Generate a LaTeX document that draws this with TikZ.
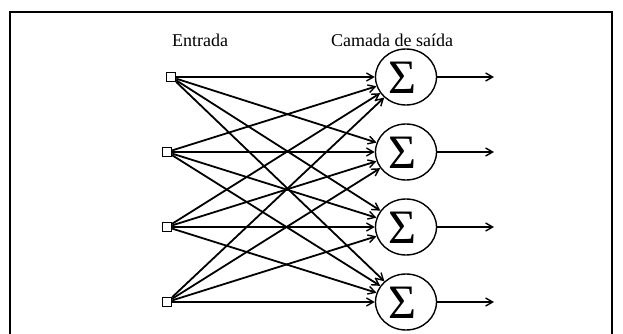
\documentclass[tikz,border=0pt]{standalone}
\usepackage{fontspec}
\setmainfont{Liberation Serif}
\usetikzlibrary{arrows.meta,shapes.geometric}
\begin{document}
\begin{tikzpicture}[x=1pt,y=-1pt,
  inbox/.style={draw,fill=white,line width=1.4pt,minimum size=9pt,inner sep=0pt},
  sumnode/.style={draw,ellipse,line width=1.4pt,minimum width=61pt,minimum height=56pt,inner sep=0pt},
  glyph/.style={font=\fontsize{48}{48}\selectfont,inner sep=0pt},
  conn/.style={line width=1.8pt,-{Straight Barb[length=7pt,width=8pt,line width=1.4pt]}},
  lbl/.style={font=\fontsize{18}{20}\selectfont}]
\useasboundingbox (0,0) rectangle (623,334);
\begin{scope}
\clip (0,0) rectangle (623,334);
\draw[line width=1.6pt] (10,12) rectangle (612,345);
\end{scope}
\node[lbl] (lin) at (200,40) {Entrada};
\node[lbl] (lout) at (392,40) {Camada de saída};
\node[inbox] (i1) at (171,77) {};
\node[inbox] (i2) at (167,152) {};
\node[inbox] (i3) at (167,227) {};
\node[inbox] (i4) at (167,302) {};
\foreach \k/\y in {1/77,2/152,3/227,4/302}{
  \node[sumnode] (s\k) at (406,\y) {};
  \node[glyph] (g\k) at (402,\y+1) {Σ};
}
\coordinate (o1) at (494,77);
\coordinate (o2) at (494,152);
\coordinate (o3) at (494,227);
\coordinate (o4) at (494,302);
\foreach \i in {1,2,3,4}{
  \foreach \j in {1,2,3,4}{
    \draw[conn] (i\i) -- (s\j);
  }
  \draw[conn] (s\i) -- (o\i);
}
\foreach \i in {1,2,3,4}{ \node[inbox] at (i\i) {}; }
\end{tikzpicture}
\end{document}
